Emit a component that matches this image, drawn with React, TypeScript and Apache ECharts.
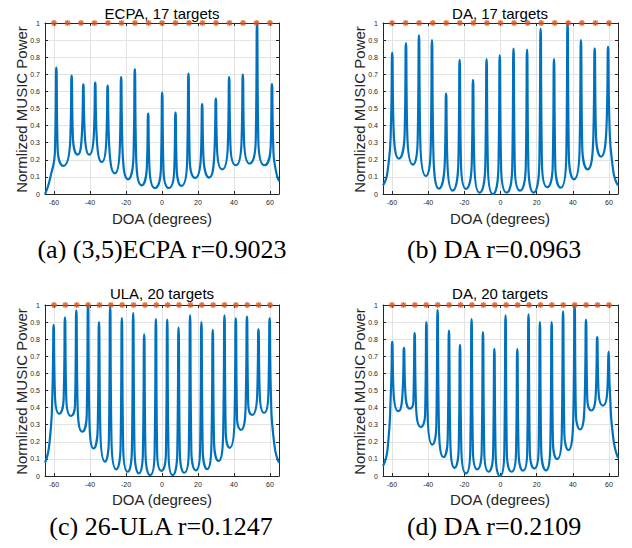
import React, { useEffect, useRef } from "react";
import * as echarts from "echarts";

// ---------- data ----------
const X_TICKS = [-60, -40, -20, 0, 20, 40, 60];

const TITLES = ["ECPA, 17 targets", "DA, 17 targets", "ULA, 20 targets", "DA, 20 targets"];
const CAPTIONS = ["(a) (3,5)ECPA r=0.9023", "(b) DA r=0.0963", "(c) 26-ULA r=0.1247", "(d) DA r=0.2109"];
const X_NAME = "DOA (degrees)";
const Y_NAME = "Normlized MUSIC Power";

// (a) ECPA, 17 targets
const targetsA = [-60, -52.5, -45, -37.5, -30, -22.5, -15, -7.5, 0, 7.5, 15, 22.5, 30, 37.5, 45, 52.5, 60];
const peakXA = [-58.7, -50.2, -43.7, -37.1, -30.2, -22.7, -15.1, -7.7, 0.1, 7.5, 14.7, 22.3, 29.9, 37.3, 44.9, 52.8, 61.1];
const peakYA = [0.739, 0.692, 0.641, 0.651, 0.634, 0.684, 0.731, 0.47, 0.593, 0.476, 0.704, 0.526, 0.558, 0.684, 0.698, 1.0, 0.643];
const baseYA = [0.27, 0.33, 0.37, 0.36, 0.32, 0.28, 0.23, 0.16, 0.15, 0.14, 0.2, 0.22, 0.26, 0.29, 0.31, 0.32, 0.28];
const valleyXA = [-54.8, -46.9, -40.4, -33.4, -26.2, -18.9, -11.3, -4.0, 3.8, 10.8, 18.4, 26.2, 33.4, 41.0, 48.7, 56.9];
const valleyYA = [0.164, 0.23, 0.23, 0.187, 0.121, 0.086, 0.051, 0.035, 0.035, 0.047, 0.094, 0.096, 0.144, 0.168, 0.178, 0.168];
const leftEdgeA = [[-65, 0], [-62.2, 0.09]];
const rightEdgeA = [[63, 0.15], [65, 0.075]];

// (b) DA, 17 targets
const targetsB = [-60, -52.5, -45, -37.5, -30, -22.5, -15, -7.5, 0, 7.5, 15, 22.5, 30, 37.5, 45, 52.5, 60];
const peakXB = [-59.9, -52.3, -45.1, -37.9, -30.1, -22.6, -15.2, -7.7, -0.4, 7.2, 14.7, 22.2, 29.6, 37.1, 44.5, 52.1, 59.5];
const peakYB = [0.825, 0.883, 0.928, 0.9, 0.587, 0.784, 0.667, 0.789, 0.811, 0.85, 0.845, 0.967, 0.789, 1.0, 0.9, 0.852, 0.86];
const baseYB = [0.4, 0.36, 0.32, 0.27, 0.19, 0.19, 0.18, 0.17, 0.17, 0.16, 0.17, 0.19, 0.17, 0.23, 0.28, 0.35, 0.44];
const valleyXB = [-56.2, -48.4, -41.2, -34.0, -26.5, -19.1, -11.6, -4.2, 3.4, 10.8, 18.3, 25.9, 33.3, 40.7, 48.2, 55.6];
const valleyYB = [0.207, 0.172, 0.105, 0.031, 0.02, 0.03, 0.008, 0.0, 0.008, 0.02, 0.008, 0.04, 0.037, 0.086, 0.144, 0.219];
const leftEdgeB = [[-65, 0.05], [-62.5, 0.13]];
const rightEdgeB = [[62.3, 0.14], [65, 0.05]];

// (c) ULA, 20 targets
const targetsC = [-60, -53.68, -47.37, -41.05, -34.74, -28.42, -22.11, -15.79, -9.47, -3.16, 3.16, 9.47, 15.79, 22.11, 28.42, 34.74, 41.05, 47.37, 53.68, 60];
const peakXC = [-60.2, -53.9, -47.6, -41.1, -35.0, -28.8, -22.3, -16.0, -9.9, -3.4, 2.9, 9.2, 15.6, 21.9, 28.2, 34.7, 41.0, 47.2, 53.6, 59.8];
const peakYC = [0.883, 0.926, 0.968, 1.0, 0.9, 0.99, 0.924, 0.953, 0.828, 0.917, 0.914, 0.868, 0.939, 0.9, 0.854, 0.939, 0.922, 0.932, 0.857, 0.922];
const baseYC = [0.48, 0.46, 0.42, 0.36, 0.28, 0.22, 0.18, 0.16, 0.14, 0.14, 0.14, 0.14, 0.15, 0.16, 0.2, 0.26, 0.33, 0.42, 0.48, 0.48];
const valleyXC = [-57.1, -50.6, -44.3, -38.0, -31.7, -25.4, -19.1, -12.8, -6.6, -0.3, 5.9, 12.4, 18.8, 25.1, 31.4, 37.6, 43.8, 50.0, 56.7];
const valleyYC = [0.364, 0.351, 0.259, 0.161, 0.084, 0.039, 0.025, 0.015, 0.005, 0.03, 0.005, 0.019, 0.033, 0.04, 0.088, 0.165, 0.27, 0.357, 0.37];
const leftEdgeC = [[-65, 0.078], [-62.6, 0.185]];
const rightEdgeC = [[62.4, 0.185], [65, 0.078]];

// (d) DA, 20 targets
const targetsD = [-60, -53.68, -47.37, -41.05, -34.74, -28.42, -22.11, -15.79, -9.47, -3.16, 3.16, 9.47, 15.79, 22.11, 28.42, 34.74, 41.05, 47.37, 53.68, 60];
const peakXD = [-59.9, -53.4, -47.5, -41.0, -34.8, -28.5, -22.4, -16.0, -9.7, -3.4, 2.8, 9.3, 15.5, 21.8, 28.3, 34.6, 41.0, 47.3, 53.5, 59.8];
const peakYD = [0.785, 0.75, 0.836, 0.9, 0.971, 0.851, 0.767, 0.918, 0.841, 0.744, 0.94, 0.742, 0.946, 0.9, 0.9, 0.963, 1.0, 0.913, 0.812, 0.728];
const baseYD = [0.5, 0.5, 0.43, 0.36, 0.3, 0.22, 0.17, 0.16, 0.15, 0.13, 0.14, 0.14, 0.15, 0.16, 0.2, 0.25, 0.36, 0.45, 0.5, 0.5];
const valleyXD = [-56.5, -50.1, -44.0, -37.7, -31.5, -25.4, -19.1, -12.8, -6.6, -0.3, 6.1, 12.5, 18.7, 25.2, 31.4, 37.5, 44.0, 50.2, 56.7];
const valleyYD = [0.379, 0.394, 0.286, 0.184, 0.111, 0.048, 0.015, 0.039, 0.025, 0.0, 0.025, 0.031, 0.044, 0.033, 0.099, 0.152, 0.272, 0.383, 0.412];
const leftEdgeD = [[-65, 0.058], [-62.5, 0.155]];
const rightEdgeD = [[62.4, 0.22], [65, 0.107]];

// ---------- layout / style ----------
const W = 632;
const H = 548;
const SPIKE = 0.7; // half width (deg) of the spike base knots
const LINE_COLOR = "#0072BD";
const MARK_COLOR = "#D95319";
const AXIS_COLOR = "#262626";
const GRID_COLOR = "#e3e3e3";
const SANS = "'Liberation Sans', Arial, Helvetica, sans-serif";
const SERIF = "'Liberation Serif', 'Times New Roman', serif";

const PANELS = [
  { targets: targetsA, peakX: peakXA, peakY: peakYA, baseY: baseYA, valleyX: valleyXA, valleyY: valleyYA, leftEdge: leftEdgeA, rightEdge: rightEdgeA },
  { targets: targetsB, peakX: peakXB, peakY: peakYB, baseY: baseYB, valleyX: valleyXB, valleyY: valleyYB, leftEdge: leftEdgeB, rightEdge: rightEdgeB },
  { targets: targetsC, peakX: peakXC, peakY: peakYC, baseY: baseYC, valleyX: valleyXC, valleyY: valleyYC, leftEdge: leftEdgeC, rightEdge: rightEdgeC },
  { targets: targetsD, peakX: peakXD, peakY: peakYD, baseY: baseYD, valleyX: valleyXD, valleyY: valleyYD, leftEdge: leftEdgeD, rightEdge: rightEdgeD },
];

const LAYOUT = [
  { left: 45, top: 23, width: 234, height: 171, cx: 162, titleY: 13.7, xNameY: 218.5, yNameX: 21, capX: 162, capY: 249 },
  { left: 383, top: 23, width: 235, height: 171, cx: 500, titleY: 13.7, xNameY: 218.5, yNameX: 359, capX: 494, capY: 249 },
  { left: 45, top: 305, width: 234, height: 171, cx: 162, titleY: 293.3, xNameY: 499.5, yNameX: 21, capX: 161, capY: 526 },
  { left: 383, top: 305, width: 235, height: 171, cx: 500, titleY: 293.3, xNameY: 499.5, yNameX: 359, capX: 494, capY: 526 },
];

function buildCurve(p: any): number[][] {
  const pts: number[][] = [...p.leftEdge];
  p.peakX.forEach((px: number, i: number) => {
    pts.push([px - SPIKE, p.baseY[i]], [px, p.peakY[i]], [px + SPIKE, p.baseY[i]]);
    if (i < p.valleyX.length) pts.push([p.valleyX[i], p.valleyY[i]]);
  });
  pts.push(...p.rightEdge);
  return pts;
}

const ASTERISK = "path://M0,-5L0,5M-5,0L5,0M-3.6,-3.6L3.6,3.6M-3.6,3.6L3.6,-3.6";

function buildOption() {
  const grid: any[] = [];
  const xAxis: any[] = [];
  const yAxis: any[] = [];
  const series: any[] = [];
  const graphic: any[] = [];

  PANELS.forEach((p, i) => {
    const L = LAYOUT[i];
    grid.push({ left: L.left, top: L.top, width: L.width, height: L.height, containLabel: false });
    const axisLine = { show: true, onZero: false, lineStyle: { color: AXIS_COLOR, width: 1 } };
    xAxis.push({
      gridIndex: i, type: "value", min: -65, max: 65, position: "bottom",
      axisLine,
      axisTick: { show: true, inside: true, length: 3, customValues: X_TICKS, lineStyle: { color: AXIS_COLOR } },
      axisLabel: { show: true, customValues: X_TICKS, fontSize: 7, color: AXIS_COLOR, margin: 5, fontFamily: SANS },
      splitLine: { show: true, lineStyle: { color: GRID_COLOR, width: 1 } },
    });
    xAxis.push({
      gridIndex: i, type: "value", min: -65, max: 65, position: "top",
      axisLine,
      axisTick: { show: true, inside: true, length: 3, customValues: X_TICKS, lineStyle: { color: AXIS_COLOR } },
      axisLabel: { show: false },
      splitLine: { show: false },
    });
    yAxis.push({
      gridIndex: i, type: "value", min: 0, max: 1, interval: 0.1, position: "left",
      axisLine,
      axisTick: { show: true, inside: true, length: 3, lineStyle: { color: AXIS_COLOR } },
      axisLabel: { show: true, fontSize: 7, color: AXIS_COLOR, margin: 5, fontFamily: SANS },
      splitLine: { show: true, lineStyle: { color: GRID_COLOR, width: 1 } },
    });
    yAxis.push({
      gridIndex: i, type: "value", min: 0, max: 1, interval: 0.1, position: "right",
      axisLine,
      axisTick: { show: true, inside: true, length: 3, lineStyle: { color: AXIS_COLOR } },
      axisLabel: { show: false },
      splitLine: { show: false },
    });

    series.push({
      type: "line",
      xAxisIndex: 2 * i,
      yAxisIndex: 2 * i,
      data: buildCurve(p),
      showSymbol: false,
      smooth: 0.6,
      clip: true,
      lineStyle: { color: LINE_COLOR, width: 2.2 },
      z: 3,
    });
    series.push({
      type: "scatter",
      xAxisIndex: 2 * i,
      yAxisIndex: 2 * i,
      data: p.targets.map((t) => [t, 1]),
      symbol: ASTERISK,
      symbolSize: 6,
      clip: false,
      itemStyle: { color: "rgba(0,0,0,0)", borderColor: MARK_COLOR, borderWidth: 1.4 },
      z: 4,
    });

    graphic.push({
      type: "text", x: L.cx, y: L.titleY,
      style: { text: TITLES[i], fill: "#000", font: `15px ${SANS}`, align: "center", verticalAlign: "middle" },
    });
    graphic.push({
      type: "text", x: L.cx, y: L.xNameY,
      style: { text: X_NAME, fill: AXIS_COLOR, font: `15px ${SANS}`, align: "center", verticalAlign: "middle" },
    });
    graphic.push({
      type: "text", x: L.yNameX, y: L.top + L.height / 2 + 1, rotation: Math.PI / 2,
      style: { text: Y_NAME, fill: AXIS_COLOR, font: `15px ${SANS}`, align: "center", verticalAlign: "middle" },
    });
    graphic.push({
      type: "text", x: L.capX, y: L.capY,
      style: { text: CAPTIONS[i], fill: "#000", font: `26px ${SERIF}`, align: "center", verticalAlign: "middle" },
    });
  });

  return { animation: false, backgroundColor: "#fff", grid, xAxis, yAxis, series, graphic };
}

export default function App() {
  const ref = useRef<HTMLDivElement>(null);
  useEffect(() => {
    if (!ref.current) return;
    const chart = echarts.init(ref.current, null, { renderer: "svg" });
    chart.setOption(buildOption() as any);
    return () => chart.dispose();
  }, []);
  return (
    <div
      ref={ref}
      style={{ position: "absolute", left: 0, top: 0, width: W, height: H, background: "#fff" }}
    />
  );
}
